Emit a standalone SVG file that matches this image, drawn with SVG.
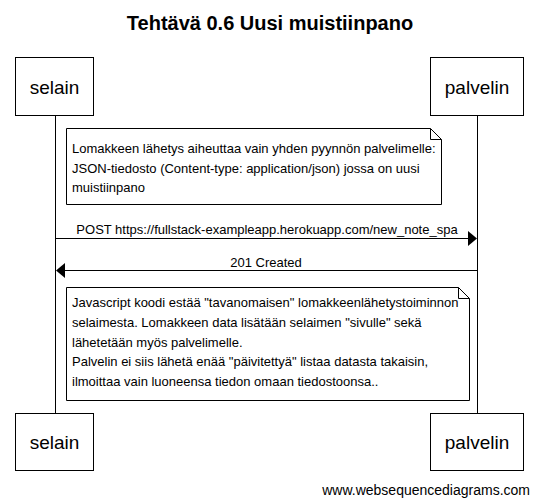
<svg xmlns="http://www.w3.org/2000/svg" width="539" height="504" viewBox="0 0 539 504">
<defs>
<style>
text{font-family:"Liberation Sans",Arial,sans-serif;fill:#000}
.title{font-size:20px;font-weight:bold;text-anchor:middle}
.actor rect{fill:#fff;stroke:#000;stroke-width:1}
.actor text{font-size:19px;text-anchor:middle}
.life{stroke:#000;stroke-width:1;fill:none}
.msg{stroke:#000;stroke-width:1;fill:none}
.lbl{font-size:13px;text-anchor:middle}
.note path{fill:#fff;stroke:#000;stroke-width:1}
.note text{font-size:13px}
.foot{font-size:14px;text-anchor:end}
</style>
</defs>
<rect width="539" height="504" fill="#fff"/>
<text class="title" x="270" y="30">Tehtävä 0.6 Uusi muistiinpano</text>
<g id="lifelines">
<line class="life" x1="55.5" y1="116" x2="55.5" y2="413"/>
<line class="life" x1="477.5" y1="116" x2="477.5" y2="413"/>
</g>
<g id="selain" class="actor">
<rect x="15.5" y="57.5" width="78" height="58"/>
<text x="54.5" y="94">selain</text>
</g>
<g id="palvelin" class="actor">
<rect x="430.5" y="57.5" width="93" height="58"/>
<text x="477" y="94">palvelin</text>
</g>
<g id="selain-bottom" class="actor">
<rect x="15.5" y="413.5" width="78" height="57"/>
<text x="54.5" y="449">selain</text>
</g>
<g id="palvelin-bottom" class="actor">
<rect x="430.5" y="413.5" width="93" height="57"/>
<text x="477" y="449">palvelin</text>
</g>
<g id="note1" class="note">
<path d="M66.5 128.5 H430.5 L441.5 139.5 V204.5 H66.5 Z M430.5 128.5 V139.5 H441.5"/>
<text x="72" y="153">Lomakkeen lähetys aiheuttaa vain yhden pyynnön palvelimelle:</text>
<text x="72" y="173">JSON-tiedosto (Content-type: application/json) jossa on uusi</text>
<text x="72" y="192">muistiinpano</text>
</g>
<g id="connectors">
<line class="msg" x1="55.5" y1="238.5" x2="468" y2="238.5"/>
<path d="M468 231 L477 238.5 L468 246 Z" fill="#000"/>
<text class="lbl" x="267" y="234">POST https://fullstack-exampleapp.herokuapp.com/new_note_spa</text>
<line class="msg" x1="477.5" y1="270.5" x2="65" y2="270.5"/>
<path d="M65 263 L56 270.5 L65 278 Z" fill="#000"/>
<text class="lbl" x="266" y="267">201 Created</text>
</g>
<g id="note2" class="note">
<path d="M66.5 287.5 H458.5 L469.5 298.5 V400.5 H66.5 Z M458.5 287.5 V298.5 H469.5"/>
<text x="72" y="307">Javascript koodi estää "tavanomaisen" lomakkeenlähetystoiminnon</text>
<text x="72" y="327">selaimesta. Lomakkeen data lisätään selaimen "sivulle" sekä</text>
<text x="72" y="347">lähetetään myös palvelimelle.</text>
<text x="72" y="366">Palvelin ei siis lähetä enää "päivitettyä" listaa datasta takaisin,</text>
<text x="72" y="386">ilmoittaa vain luoneensa tiedon omaan tiedostoonsa..</text>
</g>
<text class="foot" x="530" y="495">www.websequencediagrams.com</text>
</svg>
